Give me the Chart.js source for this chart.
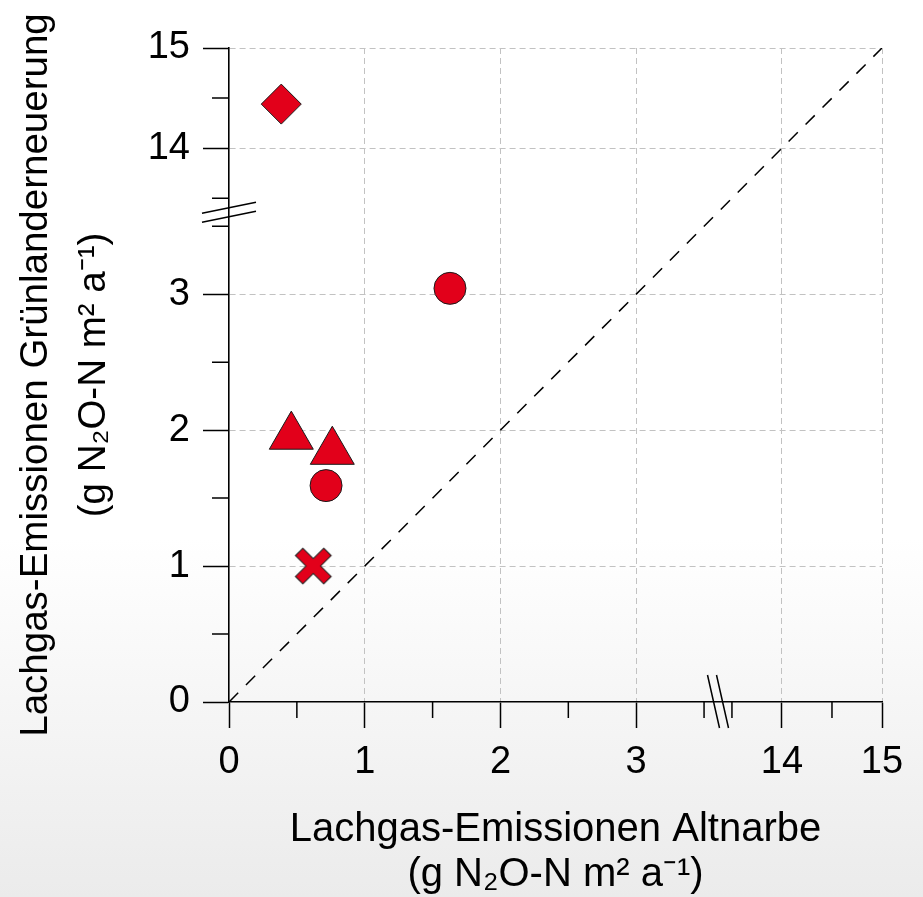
<!DOCTYPE html>
<html lang="de">
<head>
<meta charset="UTF-8">
<title>Lachgas-Emissionen</title>
<script src="https://cdn.jsdelivr.net/npm/chart.js"></script>
<style>
    html, body { margin: 0; padding: 0; }
    body {
        width: 923px; height: 897px; overflow: hidden;
        background: linear-gradient(to bottom, #ffffff 0%, #ffffff 60%, #ebebeb 100%);
    }
    .grafico { position: relative; width: 923px; height: 897px; }
</style>
</head>
<body>
<div class="grafico"><canvas id="lachgas"></canvas></div>

<script>
// Achsen mit Bruch zwischen 3,5 und 13,5
const tickValues = [0, 0.5, 1, 1.5, 2, 2.5, 3, 3.5, 13.5, 14, 14.5, 15];
const tickLabels = ['0', '', '1', '', '2', '', '3', '', '', '14', '', '15'];

// Messwerte: x = Altnarbe, y = Grünlanderneuerung (g N2O-N m2 a-1)
const rauteX = [0.385];          const rauteY = [14.44];
const kreisX = [1.628, 0.715];   const kreisY = [3.043, 1.592];
const dreieckX = [0.459, 0.761]; const dreieckY = [1.953, 1.842];
const kreuzX = [0.621];          const kreuzY = [1.0];
const diagonaleX = [0, 15];      const diagonaleY = [0, 15];

const ROT = '#e2001a';
const RAND = '#1a1a1a';

// gebrochene Achse: oberhalb des Bruchs gestaucht
const BRUCH_UNTEN = 3.5, BRUCH_OBEN = 13.5, LUECKE = 0.2055, STAUCHUNG = 0.737;
function skala(v) {
    return v <= BRUCH_UNTEN ? v : BRUCH_UNTEN + LUECKE + (v - BRUCH_OBEN) * STAUCHUNG;
}
const MAX = skala(15);
const punkte = (xs, ys) => xs.map((x, i) => ({ x: skala(x), y: skala(ys[i]) }));
const istHaupt = i => tickLabels[i] !== '';

function kreuzSymbol() {
    const c = document.createElement('canvas');
    c.width = 44; c.height = 44;
    const g = c.getContext('2d');
    g.translate(22, 22);
    g.rotate(Math.PI / 4);
    const h = 5.2, L = 20;
    g.beginPath();
    g.moveTo(-h, -L); g.lineTo(h, -L); g.lineTo(h, -h); g.lineTo(L, -h);
    g.lineTo(L, h); g.lineTo(h, h); g.lineTo(h, L); g.lineTo(-h, L);
    g.lineTo(-h, h); g.lineTo(-L, h); g.lineTo(-L, -h); g.lineTo(-h, -h);
    g.closePath();
    g.fillStyle = ROT;
    g.fill();
    g.lineWidth = 1;
    g.strokeStyle = RAND;
    g.stroke();
    return c;
}

// kleine Striche und Bruchzeichen
const achsenDetails = {
    id: 'achsenDetails',
    afterDraw(chart) {
        const { ctx, chartArea: a } = chart;
        const x = chart.scales.x, y = chart.scales.y;
        ctx.save();
        ctx.strokeStyle = '#000';
        ctx.lineWidth = 1.5;
        ctx.beginPath();
        tickValues.forEach((v, i) => {
            if (istHaupt(i)) return;
            const px = x.getPixelForValue(skala(v));
            ctx.moveTo(px, a.bottom);
            ctx.lineTo(px, a.bottom + 16);
            const py = y.getPixelForValue(skala(v));
            ctx.moveTo(a.left, py);
            ctx.lineTo(a.left - 17, py);
        });
        ctx.stroke();

        const mitte = (BRUCH_UNTEN + skala(BRUCH_OBEN)) / 2;
        const bx = x.getPixelForValue(mitte);
        const by = y.getPixelForValue(mitte);
        ctx.beginPath();
        [-4.5, 4.5].forEach(d => {
            ctx.moveTo(a.left - 27, by + d + 5.5);
            ctx.lineTo(a.left + 27, by + d - 5.5);
            ctx.moveTo(bx + d - 6, a.bottom - 27);
            ctx.lineTo(bx + d + 6, a.bottom + 26);
        });
        ctx.stroke();
        ctx.restore();
    }
};

Chart.defaults.font.family = "'Liberation Sans', Arial, sans-serif";
Chart.defaults.color = '#000';

function achse(extra) {
    return Object.assign({
        type: 'linear',
        min: 0,
        max: MAX,
        afterBuildTicks: s => { s.ticks = tickValues.map(v => ({ value: skala(v) })); },
        ticks: {
            autoSkip: false,
            maxRotation: 0,
            color: '#000',
            font: { size: 38 },
            callback: (val, i) => tickLabels[i]
        },
        grid: {
            color: c => (istHaupt(c.index) && tickValues[c.index] !== 0) ? '#c2c2c2' : 'transparent',
            lineWidth: 1,
            tickLength: 26,
            tickWidth: 1.5,
            tickColor: c => istHaupt(c.index) ? '#000' : 'transparent'
        },
        border: { color: '#000', width: 1.6, dash: [6, 4] }
    }, extra);
}

const xAchse = achse({
    afterFit: s => { s.height = 195; },
    title: {
        display: true,
        text: ['Lachgas-Emissionen Altnarbe', '(g N₂O-N m² a⁻¹)'],
        color: '#000',
        font: { size: 40, lineHeight: 1.125 },
        padding: { top: 0, bottom: 0 }
    }
});
xAchse.ticks.padding = 12;

const yAchse = achse({
    afterFit: s => { s.width = 229; },
    title: {
        display: true,
        text: ['Lachgas-Emissionen Grünlanderneuerung', '(g N₂O-N m² a⁻¹)'],
        color: '#000',
        font: { size: 38.5, lineHeight: 1.5 },
        padding: { top: 8, bottom: 0 }
    }
});
yAchse.ticks.padding = 13;

new Chart(document.getElementById('lachgas'), {
    type: 'scatter',
    data: {
        datasets: [
            { label: 'Raute', data: punkte(rauteX, rauteY), pointStyle: 'rectRot', pointRadius: 20,
              backgroundColor: ROT, borderColor: RAND, borderWidth: 1 },
            { label: 'Kreis', data: punkte(kreisX, kreisY), pointStyle: 'circle', pointRadius: 16,
              backgroundColor: ROT, borderColor: RAND, borderWidth: 1 },
            { label: 'Dreieck', data: punkte(dreieckX, dreieckY), pointStyle: 'triangle', pointRadius: 25.4,
              backgroundColor: ROT, borderColor: RAND, borderWidth: 1 },
            { label: 'Kreuz', data: punkte(kreuzX, kreuzY), pointStyle: kreuzSymbol(), pointRadius: 18,
              backgroundColor: ROT, borderColor: RAND, borderWidth: 1 },
            { label: '1:1', data: punkte(diagonaleX, diagonaleY), showLine: true, pointRadius: 0,
              borderColor: '#000', borderWidth: 1.5, borderDash: [13, 11] }
        ]
    },
    options: {
        responsive: true,
        maintainAspectRatio: false,
        animation: false,
        layout: { padding: { top: 48, right: 41, bottom: 0, left: 0 } },
        plugins: { legend: { display: false }, tooltip: { enabled: false } },
        scales: { x: xAchse, y: yAchse }
    },
    plugins: [achsenDetails]
});
</script>
</body>
</html>
